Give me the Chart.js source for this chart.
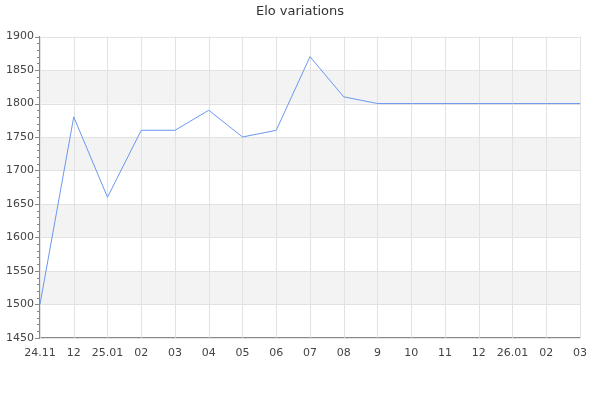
<!DOCTYPE html>
<html>
<head>
<meta charset="utf-8">
<script src="https://cdn.jsdelivr.net/npm/chart.js@4"></script>
<style>
  html, body { margin: 0; padding: 0; background: #fff; }
  #wrap { width: 600px; height: 400px; }
</style>
</head>
<body>
<div id="wrap"><canvas id="eloChart"></canvas></div>
<script>
  // data
  const labels = ['24.11', '12', '25.01', '02', '03', '04', '05', '06', '07', '08', '9', '10', '11', '12', '26.01', '02', '03'];
  const elo = [1500, 1780, 1660, 1760, 1760, 1790, 1750, 1760, 1870, 1810, 1800, 1800, 1800, 1800, 1800, 1800, 1800];
  const yMin = 1450;
  const yMax = 1900;
  const bandStarts = [1500, 1600, 1700, 1800];

  // alternating bands + minor ticks on the y axis
  const bandsPlugin = {
    id: 'bands',
    beforeDatasetsDraw(chart) {
      const { ctx, chartArea, scales } = chart;
      const y = scales.y;
      ctx.save();
      ctx.fillStyle = '#f3f3f3';
      bandStarts.forEach(v => {
        const top = y.getPixelForValue(v + 50);
        const bottom = y.getPixelForValue(v);
        ctx.fillRect(chartArea.left, top, chartArea.right - chartArea.left, bottom - top);
      });
      // grid lines over the bands
      ctx.strokeStyle = '#e2e2e2';
      ctx.lineWidth = 1;
      y.ticks.forEach(t => {
        const py = Math.round(y.getPixelForValue(t.value)) + 0.5;
        ctx.beginPath();
        ctx.moveTo(chartArea.left, py);
        ctx.lineTo(chartArea.right, py);
        ctx.stroke();
      });
      const x = scales.x;
      labels.forEach((l, i) => {
        const px = Math.round(x.getPixelForValue(i)) + 0.5;
        ctx.beginPath();
        ctx.moveTo(px, chartArea.top);
        ctx.lineTo(px, chartArea.bottom);
        ctx.stroke();
      });
      ctx.restore();
    },
    afterDraw(chart) {
      const { ctx, chartArea, scales } = chart;
      const y = scales.y;
      ctx.save();
      ctx.strokeStyle = '#888';
      ctx.lineWidth = 1;
      for (let v = yMin; v <= yMax; v += 10) {
        const py = Math.round(y.getPixelForValue(v)) + 0.5;
        const len = v % 50 === 0 ? 5 : 3;
        ctx.beginPath();
        ctx.moveTo(chartArea.left - len, py);
        ctx.lineTo(chartArea.left, py);
        ctx.stroke();
      }
      ctx.restore();
    }
  };

  Chart.defaults.font.family = '"DejaVu Sans", sans-serif';
  Chart.defaults.font.size = 11;
  Chart.defaults.color = '#444';

  const ctx = document.getElementById('eloChart').getContext('2d');
  new Chart(ctx, {
    type: 'line',
    data: {
      labels: labels,
      datasets: [{
        label: 'Elo',
        data: elo,
        borderColor: '#6b98ef',
        borderWidth: 1,
        pointRadius: 0,
        tension: 0,
        fill: false
      }]
    },
    options: {
      responsive: true,
      maintainAspectRatio: false,
      animation: false,
      layout: { padding: { left: 0, right: 0, top: 0, bottom: 31 } },
      plugins: {
        legend: { display: false },
        tooltip: { enabled: false },
        title: {
          display: true,
          text: 'Elo variations',
          color: '#333',
          font: { size: 13, weight: 'normal' },
          padding: { top: 4, bottom: 17 }
        }
      },
      scales: {
        x: {
          offset: false,
          grid: { display: false, drawTicks: false },
          border: { color: '#888' },
          ticks: { autoSkip: false, maxRotation: 0, padding: 9 },
          // keep the title centred on the canvas, leave room on the right
          afterFit: scale => { scale.paddingRight = 20; }
        },
        y: {
          min: yMin,
          max: yMax,
          grid: { display: false, drawTicks: false },
          border: { color: '#888' },
          ticks: { stepSize: 50, padding: 6, callback: v => String(v) }
        }
      }
    },
    plugins: [bandsPlugin]
  });
</script>
</body>
</html>
